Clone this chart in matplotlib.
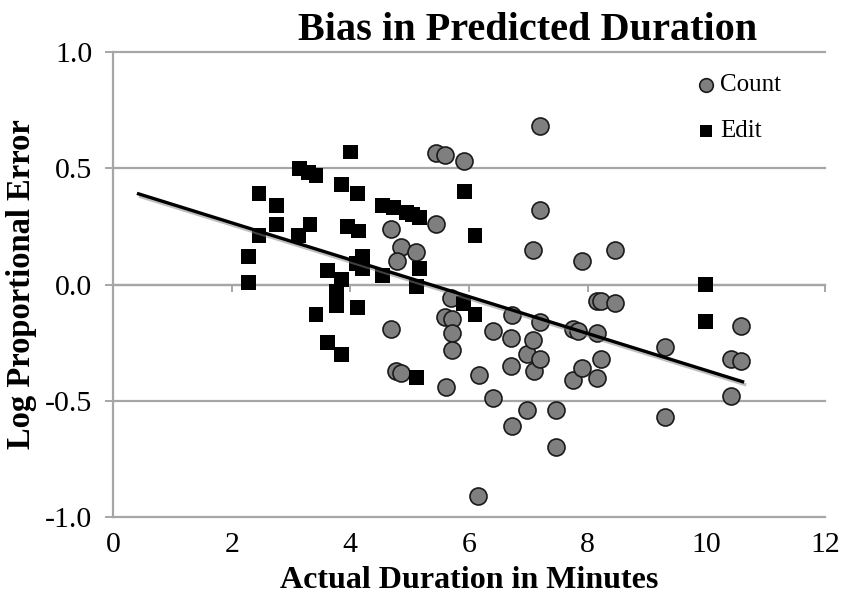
import numpy as np
import matplotlib.pyplot as plt
import matplotlib.patheffects as pe

plt.rcParams.update({
    "font.family": "Liberation Serif",
    "axes.unicode_minus": False,
})

# Count series (gray circles): actual duration (min), log proportional error
count_x = [4.68, 4.85, 4.79, 5.11, 5.45, 5.45, 5.60, 5.92, 7.20, 7.20, 7.08, 7.91, 8.46,
           4.68, 4.77, 4.85, 5.61, 5.69, 5.59, 5.71, 5.71, 5.71, 6.16, 6.15, 6.40, 6.40,
           6.72, 6.70, 6.70, 6.72, 6.97, 6.97, 7.08, 7.10, 7.20, 7.20, 7.47, 7.47, 7.75,
           7.83, 7.75, 7.91, 8.16, 8.23, 8.46, 8.16, 8.23, 8.16, 9.31, 9.31, 10.59, 10.42,
           10.59, 10.42]
count_y = [0.24, 0.16, 0.10, 0.14, 0.26, 0.565, 0.555, 0.53, 0.68, 0.32, 0.15, 0.10, 0.15,
           -0.19, -0.37, -0.38, -0.44, -0.06, -0.14, -0.15, -0.21, -0.28, -0.39, -0.91, -0.20, -0.49,
           -0.13, -0.23, -0.35, -0.61, -0.30, -0.54, -0.24, -0.37, -0.16, -0.32, -0.54, -0.70, -0.19,
           -0.20, -0.41, -0.36, -0.07, -0.07, -0.08, -0.21, -0.32, -0.40, -0.27, -0.57, -0.18, -0.32,
           -0.33, -0.48]

# Edit series (black squares)
edit_x = [2.29, 2.29, 2.46, 2.46, 2.76, 2.76, 3.13, 3.15, 3.29, 3.32, 3.42, 3.42, 3.62, 3.62,
          3.76, 3.76, 3.85, 3.85, 3.85, 3.95, 4.00, 4.12, 4.13, 4.11, 4.12, 4.21, 4.21, 4.54,
          4.54, 4.73, 4.95, 5.05, 5.16, 5.16, 5.11, 5.11, 5.90, 5.93, 6.10, 6.10, 9.99, 9.99]
edit_y = [0.12, 0.01, 0.39, 0.21, 0.34, 0.26, 0.21, 0.50, 0.48, 0.26, 0.47, -0.13, 0.06, -0.25,
          -0.03, -0.09, 0.43, 0.02, -0.30, 0.25, 0.57, 0.39, 0.23, 0.09, -0.10, 0.12, 0.07, 0.34,
          0.04, 0.33, 0.31, 0.30, 0.29, 0.07, -0.01, -0.40, -0.08, 0.40, 0.21, -0.13, 0.00, -0.16]

# trend line end points
trend_x = [0.43, 10.61]
trend_y = [0.39, -0.418]

x_ticks = [0, 2, 4, 6, 8, 10, 12]
y_ticks = [-1.0, -0.5, 0.0, 0.5, 1.0]

fig = plt.figure(figsize=(8.41, 6.02), dpi=100)
ax = fig.add_axes([0.1344, 0.1412, 0.8466, 0.7724])

grid_col = "#a6a6a6"
for yv in y_ticks:
    ax.axhline(yv, color=grid_col, lw=1.6, zorder=1, clip_on=False)

ax.scatter(count_x, count_y, s=150, marker="o", facecolor="#7f7f7f",
           edgecolor="#1a1a1a", linewidth=1.2, zorder=3, label="Count")
ax.scatter(edit_x, edit_y, s=115, marker="s", facecolor="black",
           edgecolor="none", zorder=3, label="Edit")

ax.plot(trend_x, trend_y, color="black", lw=2.4, zorder=4,
        path_effects=[pe.SimpleLineShadow(offset=(1.5, -2), shadow_color="gray", alpha=0.5),
                      pe.Normal()])

ax.set_xlim(0, 12)
ax.set_ylim(-1.0, 1.0)
ax.set_xticks(x_ticks)
ax.set_yticks(y_ticks)
ax.set_yticklabels([f"{v:.1f}" for v in y_ticks])

ax.spines["top"].set_visible(False)
ax.spines["right"].set_visible(False)
ax.spines["bottom"].set_position(("data", 0))
ax.spines["bottom"].set_color(grid_col)
ax.spines["bottom"].set_linewidth(1.6)
ax.spines["left"].set_color(grid_col)
ax.spines["left"].set_linewidth(1.6)

ax.tick_params(axis="x", direction="out", length=5, width=1.4, color=grid_col,
               labelsize=21.5, pad=173)
ax.tick_params(axis="y", direction="out", length=6, width=1.4, color=grid_col,
               labelsize=21.5, pad=9)

ax.set_xlabel("Actual Duration in Minutes", fontsize=23, fontweight="bold")
ax.set_ylabel("Log Proportional Error", fontsize=23.5, fontweight="bold")
ax.xaxis.set_label_coords(0.5, -0.105)
ax.yaxis.set_label_coords(-0.107, 0.5)

fig.text(528 / 841, 1 - 30 / 602, "Bias in Predicted Duration", fontsize=29,
         fontweight="bold", ha="center", va="center")

ax.legend(loc="upper left", bbox_to_anchor=(0.8, 0.975), frameon=False, fontsize=18,
          handletextpad=0.0, labelspacing=0.95, borderaxespad=0, handlelength=1.1,
          markerscale=0.8)

fig.savefig("out.png", dpi=100)
